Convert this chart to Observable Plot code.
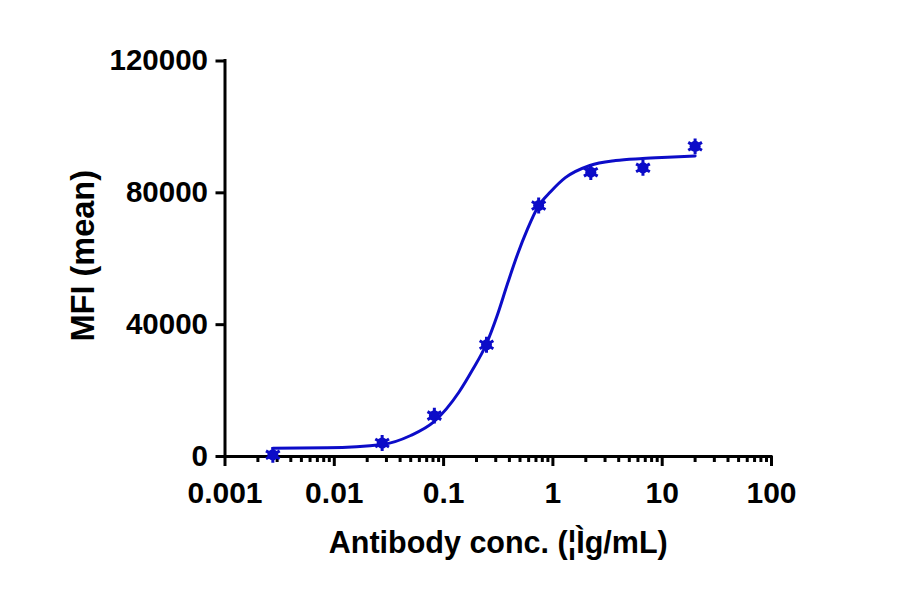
<!DOCTYPE html>
<html>
<head>
<meta charset="utf-8">
<script src="https://cdn.jsdelivr.net/npm/d3@7"></script>
<script src="https://cdn.jsdelivr.net/npm/@observablehq/plot@0.6"></script>
<style>
  html, body { margin: 0; padding: 0; background: #fff; }
  #chart svg { display: block; }
</style>
</head>
<body>
<div id="chart"></div>
<script>
// Measured data points (concentration in µg/mL, MFI mean)
const conc = [0.00274, 0.0274, 0.0823, 0.2469, 0.7407, 2.222, 6.667, 20];
const mfi  = [500, 4100, 12400, 33900, 76150, 86260, 87590, 94100];

// Fitted curve
const curveConc = [0.00274, 0.0086, 0.0275, 0.050, 0.0807, 0.138, 0.184, 0.2445, 0.311, 0.384, 0.474, 0.585, 0.731, 0.957, 1.3, 2.18, 3.75, 6.62, 11.2, 20];
const curveMfi  = [2520, 2640, 3640, 6370, 10400, 19500, 26300, 33900, 43000, 52400, 61300, 69000, 75800, 80400, 84600, 88300, 89800, 90400, 90800, 91200];

// Tick labels
const xMajorTicks = [0.001, 0.01, 0.1, 1, 10, 100];
const xMinorMultipliers = [2, 3, 4, 5, 6, 7, 8, 9];
const yTicks = [0, 40000, 80000, 120000];

const xTitle = "Antibody conc. (¦Ìg/mL)";
const yTitle = "MFI (mean)";

const points = conc.map((c, i) => ({x: c, y: mfi[i]}));
const curve = curveConc.map((c, i) => ({x: c, y: curveMfi[i]}));
const xMinorTicks = xMajorTicks.slice(0, -1).flatMap(d => xMinorMultipliers.map(m => +(d * m).toPrecision(3)));

const blue = "#0c0cc8";

const chart = Plot.plot({
  width: 900,
  height: 594,
  marginLeft: 224.5,
  marginRight: 129,
  marginTop: 60.5,
  marginBottom: 138,
  style: {
    fontFamily: "'Liberation Sans', Arial, sans-serif",
    fontWeight: "bold",
    fontSize: "30px",
    color: "#000",
    background: "#fff",
    overflow: "visible"
  },
  x: {type: "log", domain: [0.001, 100]},
  y: {domain: [0, 120000]},
  marks: [
    Plot.axisX(xMinorTicks, {tickSize: 6, strokeWidth: 3, tickFormat: () => "", label: null}),
    Plot.axisX(xMajorTicks, {tickSize: 10, tickPadding: 15, strokeWidth: 3, tickFormat: d => String(d), fontSize: 30, label: null}),
    Plot.axisY(yTicks, {tickSize: 9, tickPadding: 8, strokeWidth: 3, tickFormat: d => String(d), fontSize: 29.5, label: null}),
    Plot.ruleY([0], {strokeWidth: 3, strokeLinecap: "square"}),
    Plot.ruleX([0.001], {strokeWidth: 3, strokeLinecap: "square"}),
    Plot.line(curve, {x: "x", y: "y", stroke: blue, strokeWidth: 3, curve: "monotone-x"}),
    Plot.dot(points, {x: "x", y: "y", r: 5.5, fill: blue}),
    Plot.dot(points, {x: "x", y: "y", symbol: "asterisk", r: 7.5, stroke: blue, strokeWidth: 3}),
    Plot.text([xTitle], {frameAnchor: "bottom", textAnchor: "middle", lineAnchor: "middle", dy: 87, fontSize: 30.5, fontWeight: "bold"}),
    Plot.text([yTitle], {frameAnchor: "left", textAnchor: "middle", lineAnchor: "middle", dx: -141.5, dy: -3, rotate: -90, fontSize: 32.5, fontWeight: "bold"})
  ]
});

document.getElementById("chart").appendChild(chart);
</script>
</body>
</html>
